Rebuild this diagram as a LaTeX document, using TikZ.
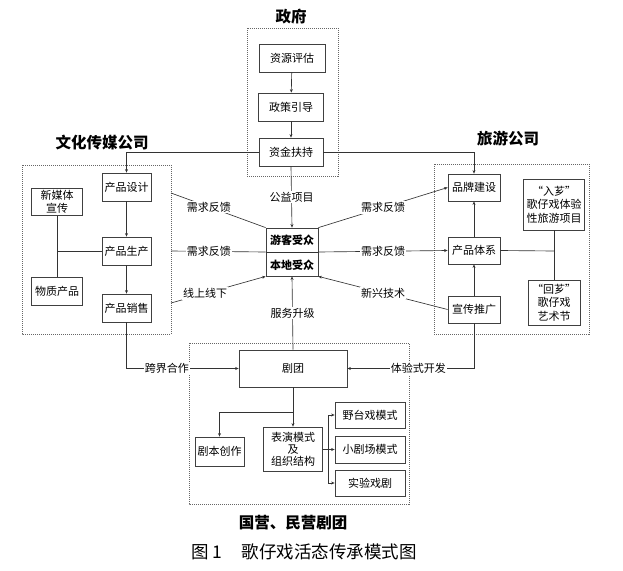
\documentclass[tikz,border=0pt]{standalone}
\usepackage{fontspec}
\setmainfont{Noto Sans CJK SC}
\usetikzlibrary{arrows.meta}
\begin{document}
\begin{tikzpicture}[x=1pt,y=-1pt,
  boxn/.style={draw=black!75,line width=0.8pt,inner sep=0pt,align=center,font=\fontsize{11}{13.5}\selectfont,fill=white},
  group/.style={draw=black!60,line width=0.6pt,dash pattern=on 1pt off 1pt},
  conn/.style={draw=black!80,line width=0.65pt},
  arr/.style={conn,-{Stealth[length=3.5pt,width=3pt]}},
  lbl/.style={fill=white,inner sep=1.2pt,font=\fontsize{11}{13}\selectfont},
  ttl/.style={font=\fontsize{15.5}{18}\selectfont\bfseries}]
\useasboundingbox (0,0) rectangle (623,570);
% group frames
\draw[group] (247,28) rectangle (338,176);
\draw[group] (22,165) rectangle (171,334);
\draw[group] (434,164) rectangle (589,334);
\draw[group] (189,343) rectangle (409,504);
% titles
\node[ttl] (tgov) at (291,17) {政府};
\node[ttl] (tmed) at (102,143) {文化传媒公司};
\node[ttl] (ttour) at (508,139) {旅游公司};
\node[ttl] (ttroupe) at (293,523) {国营、民营剧团};
\node[font=\fontsize{17.5}{20}\selectfont] (cap) at (304,552) {图 1\hspace{1.1em}歌仔戏活态传承模式图};
% government
\node[boxn,minimum width=66pt,minimum height=28pt] (g1) at (292,58) {资源评估};
\node[boxn,minimum width=65pt,minimum height=28pt] (g2) at (291,107) {政策引导};
\node[boxn,minimum width=64pt,minimum height=28pt] (g3) at (291,152) {资金扶持};
% media company
\node[boxn,minimum width=49pt,minimum height=28pt] (a1) at (126.5,187) {产品设计};
\node[boxn,minimum width=49pt,minimum height=28pt] (a2) at (126.5,251) {产品生产};
\node[boxn,minimum width=49pt,minimum height=28pt] (a3) at (126.5,308) {产品销售};
\node[boxn,minimum width=51pt,minimum height=27pt] (m1) at (57,202) {新媒体\\宣传};
\node[boxn,minimum width=51pt,minimum height=28pt] (m2) at (57,291) {物质产品};
% audience
\node[boxn,minimum width=52pt,minimum height=48pt] (aud) at (292,252) {};
\node[font=\fontsize{11}{13}\selectfont\bfseries] (aud1) at (292,240) {游客受众};
\node[font=\fontsize{11}{13}\selectfont\bfseries] (aud2) at (292,265) {本地受众};
% tourism company
\node[boxn,minimum width=52pt,minimum height=27pt] (b1) at (474,187.5) {品牌建设};
\node[boxn,minimum width=52pt,minimum height=27pt] (b2) at (474,250.5) {产品体系};
\node[boxn,minimum width=52pt,minimum height=27pt] (b3) at (474,309.5) {宣传推广};
\node[boxn,minimum width=61pt,minimum height=51pt] (r1) at (554,204.5) {“入芗”\\歌仔戏体验\\性旅游项目};
\node[boxn,minimum width=52pt,minimum height=45pt] (r2) at (554,302.5) {“回芗”\\歌仔戏\\艺术节};
% troupes
\node[boxn,minimum width=108pt,minimum height=37pt] (tr) at (293,368.5) {剧团};
\node[boxn,minimum width=49pt,minimum height=29pt] (s1) at (219.5,451.5) {剧本创作};
\node[boxn,minimum width=59pt,minimum height=44pt,font=\fontsize{11}{12}\selectfont] (s2) at (293,449) {表演模式\\及\\组织结构};
\node[boxn,minimum width=70pt,minimum height=26pt] (p1) at (370,415) {野台戏模式};
\node[boxn,minimum width=70pt,minimum height=27pt] (p2) at (370,449.5) {小剧场模式};
\node[boxn,minimum width=70pt,minimum height=26pt] (p3) at (370,483) {实验戏剧};
% helper coordinates
\coordinate (L1) at (171,193);
\coordinate (L2) at (171,251);
\coordinate (L3) at (171,303);
\coordinate (mj) at (57,251);
\coordinate (rj) at (554,251);
\coordinate (tj) at (293,412);
\coordinate (pj) at (328,449);
\coordinate (pj1) at (328,415);
\coordinate (pj2) at (328,449.5);
\coordinate (pj3) at (328,483);
% government links
\draw[arr] (g1) -- (g2);
\draw[arr] (g2) -- (g3);
\draw[arr] (g3.west) -| (a1.north);
\draw[arr] (g3.east) -| (b1.north);
\draw[arr] (g3.south) -- node[lbl,pos=0.5] {公益项目} (aud.north);
% media internal
\draw[arr] (a1) -- (a2);
\draw[arr] (a2) -- (a3);
\draw[conn] (a2.west) -- (mj);
\draw[conn] (m1.south) -- (m2.north);
% media to audience
\draw[conn] (L1) -- node[lbl,pos=0.4] {需求反馈} (aud.north west);
\draw[conn] (L2) -- node[lbl,pos=0.4] {需求反馈} (aud.west);
\draw[conn] (aud.west) -- (aud.east);
\draw[arr] (L3) -- node[lbl,pos=0.36] {线上线下} (aud.south west);
% audience to tourism
\draw[arr] (aud.north east) -- node[lbl,pos=0.5] {需求反馈} (b1.west);
\draw[arr] (aud.east) -- node[lbl,pos=0.5] {需求反馈} (b2.west);
\draw[arr] (b3.west) -- node[lbl,pos=0.5] {新兴技术} (aud.south east);
% tourism internal
\draw[arr] (b3) -- (b2);
\draw[arr] (b2) -- (b1);
\draw[conn] (b2.east) -- (rj);
\draw[conn] (r1.south) -- (r2.north);
% troupes
\draw[arr] (tr.north) -- node[lbl,pos=0.5] {服务升级} (aud.south);
\draw[arr] (a3.south) |- node[lbl,pos=0.68] {跨界合作} (tr.west);
\draw[arr] (b3.south) |- node[lbl,pos=0.72] {体验式开发} (tr.east);
\draw[conn] (tr.south) -- (tj);
\draw[arr] (tj) -| (s1.north);
\draw[arr] (tj) -- (s2.north);
\draw[conn] (s2.east) -- (pj);
\draw[conn] (pj1) -- (pj3);
\draw[arr] (pj1) -- (p1.west);
\draw[arr] (pj2) -- (p2.west);
\draw[arr] (pj3) -- (p3.west);
\end{tikzpicture}
\end{document}
